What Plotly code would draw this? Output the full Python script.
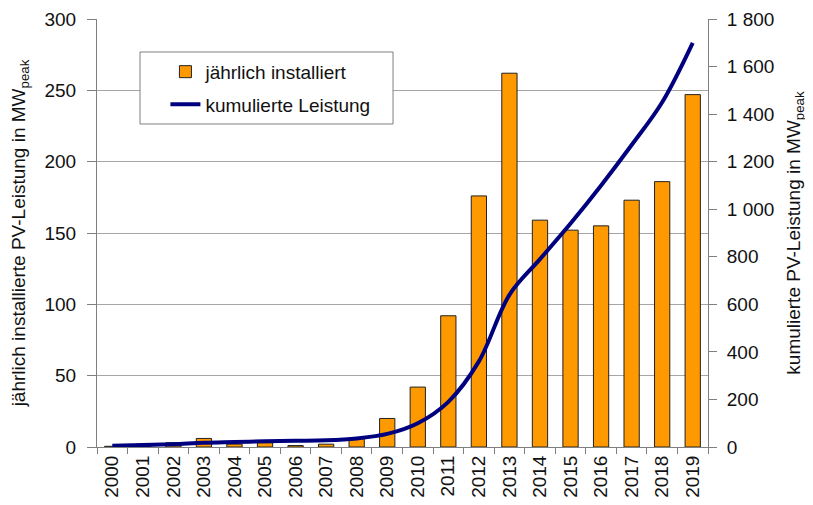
import plotly.graph_objects as go

years = [str(y) for y in range(2000, 2020)]
yearly = [0.5, 0.3, 3, 6, 2, 3, 1, 2, 6, 20, 42, 92, 176, 262, 159, 152, 155, 173, 186, 247]
cumulative = [5, 8, 12, 18, 21, 24, 26, 28, 36, 55, 100, 190, 360, 640, 790, 940, 1100, 1270, 1450, 1700]

left_ticks = [0, 50, 100, 150, 200, 250, 300]
right_ticks = [0, 200, 400, 600, 800, 1000, 1200, 1400, 1600, 1800]
right_text = ["0", "200", "400", "600", "800", "1 000", "1 200", "1 400", "1 600", "1 800"]

font = "Liberation Sans, Arial, sans-serif"
axcol = "#7f7f7f"
boundaries = [i - 0.5 for i in range(len(years) + 1)]

fig = go.Figure()
fig.add_trace(go.Bar(x=years, y=yearly, name="jährlich installiert", width=0.5, legendgroup="a",
                     marker=dict(color="#ff9900", line=dict(color="#222222", width=1))))
fig.add_trace(go.Scatter(x=years, y=cumulative, name="kumulierte Leistung", yaxis="y2", legendgroup="b",
                         mode="lines", line=dict(color="#00007f", width=4, shape="spline", smoothing=1)))

# page body has an 8px margin, so the figure is 8px smaller than the window
fig.update_layout(
    width=805, height=497,
    margin=dict(l=89, r=105, t=11, b=58, autoexpand=False),
    plot_bgcolor="white", paper_bgcolor="white",
    font=dict(family=font, size=19, color="#111111"),
    showlegend=True,
    legend=dict(x=0.112, y=0.921, xanchor="left", yanchor="top", bgcolor="rgba(0,0,0,0)",
                borderwidth=0, font=dict(size=19), tracegroupgap=5),
    xaxis=dict(type="category", tickangle=-90, ticks="outside", tickson="boundaries",
               ticklen=6, tickcolor=axcol, showline=True, linecolor=axcol, linewidth=1,
               showgrid=False, automargin=False, tickfont=dict(size=19)),
    xaxis2=dict(overlaying="x", range=[-0.5, len(years) - 0.5], tickvals=boundaries, ticks="inside",
                ticklen=5, tickcolor=axcol, showticklabels=False, showgrid=False, zeroline=False,
                showline=False, side="bottom", anchor="y"),
    yaxis=dict(range=[0, 300], tickvals=left_ticks, ticks="outside", ticklen=9, tickcolor=axcol,
               ticklabelstandoff=7, ticklabeloverflow="allow", showline=True, linecolor=axcol,
               linewidth=1, showgrid=True, gridcolor="#a6a6a6", gridwidth=1, zeroline=False,
               automargin=False,
               title=dict(text="jährlich installierte PV-Leistung in MW<sub>peak</sub>",
                          font=dict(size=19), standoff=23)),
    yaxis2=dict(range=[0, 1800], overlaying="y", side="right", tickvals=right_ticks, ticktext=right_text,
                ticks="outside", ticklen=8, tickcolor=axcol, ticklabelstandoff=6,
                ticklabeloverflow="allow", showline=True, linecolor=axcol, linewidth=1,
                showgrid=False, zeroline=False, automargin=False,
                title=dict(text="kumulierte PV-Leistung in MW<sub>peak</sub>",
                           font=dict(size=19), standoff=13)),
    yaxis3=dict(range=[0, 1800], overlaying="y", side="right", anchor="x", tickvals=right_ticks,
                ticks="inside", ticklen=6, tickcolor=axcol, showticklabels=False, showgrid=False,
                zeroline=False, showline=False),
    shapes=[dict(type="rect", xref="paper", yref="paper", x0=0.0704, x1=0.4845, y0=0.7547, y1=0.9229,
                 line=dict(color="#7f7f7f", width=1), fillcolor="white", layer="above")],
)

fig.write_html("out.html")
